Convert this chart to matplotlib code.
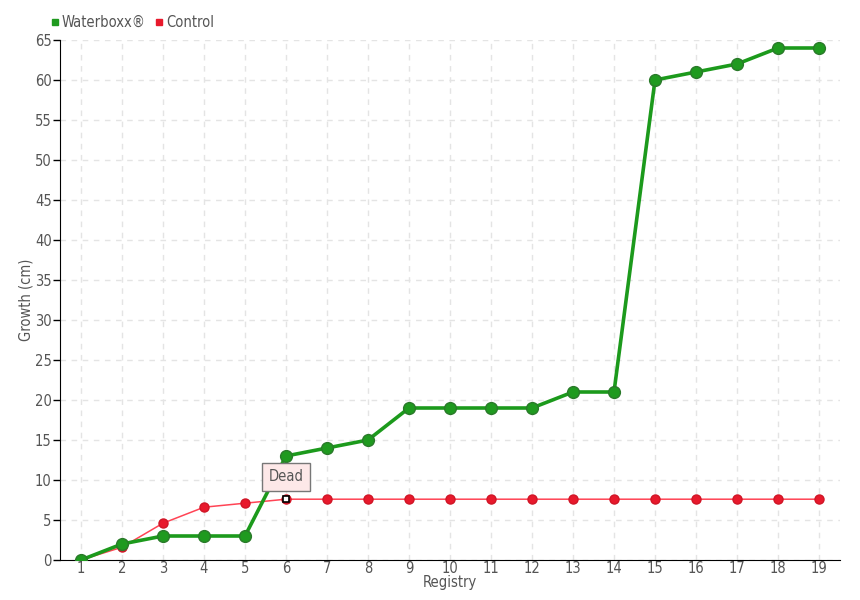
import matplotlib
matplotlib.use("Agg")
import matplotlib.pyplot as plt
from matplotlib.lines import Line2D

registry = list(range(1, 20))
waterboxx = [0, 2, 3, 3, 3, 13, 14, 15, 19, 19, 19, 19, 21, 21, 60, 61, 62, 64, 64]
control = [0, 1.6, 4.6, 6.6, 7.1, 7.6, 7.6, 7.6, 7.6, 7.6, 7.6, 7.6, 7.6, 7.6, 7.6, 7.6, 7.6, 7.6, 7.6]
yticks = list(range(0, 66, 5))

plt.rcParams['font.family'] = ['DejaVu Sans']
plt.rcParams['font.stretch'] = 'condensed'

fig = plt.figure(figsize=(8.6, 6), dpi=100)
ax = fig.add_axes([60/860, 40/600, 780/860, 520/600])

txt = "#555555"
ax.set_xlim(0.488, 19.512)
ax.set_ylim(0, 65)
ax.set_yticks(yticks)
ax.set_xticks(registry)
ax.grid(True, color="#e4e4e4", linestyle=(0, (4, 4)), linewidth=1)
ax.set_axisbelow(True)
for s in ["top", "right"]:
    ax.spines[s].set_visible(False)
ax.spines["left"].set_color("black")
ax.spines["bottom"].set_color("black")
ax.tick_params(axis="y", length=5, width=1, color="black", labelcolor=txt, labelsize=10.5, pad=1)
ax.tick_params(axis="x", length=0, labelcolor=txt, labelsize=10.5, pad=1)

ax.plot(registry, control, color="#ff4455", linewidth=1.1, marker="o", markersize=6.5,
        markerfacecolor="#e8192c", markeredgecolor="#d01526", zorder=3)
ax.plot(registry, waterboxx, color="#1c9a1c", linewidth=2.6, marker="o", markersize=8.5,
        markerfacecolor="#1f9a1f", markeredgecolor="#2a7a2a", markeredgewidth=1, zorder=4)

# Dead marker
ax.plot([registry[5]], [control[5]], marker="s", markersize=5, markerfacecolor="white",
        markeredgecolor="black", markeredgewidth=1.2, zorder=6, linestyle="none")
ax.annotate("Dead", xy=(registry[5], control[5]), xytext=(0, 16), textcoords="offset points",
            ha="center", va="center", fontsize=10.5, color="#555555",
            bbox=dict(boxstyle="square,pad=0.45", fc="#fde8e8", ec="#777777", lw=1),
            zorder=7)

ax.set_xlabel("Registry", color=txt, fontsize=10.5, labelpad=-1)
ax.set_ylabel("Growth (cm)", color=txt, fontsize=10.5, labelpad=1)

handles = [Line2D([], [], marker="s", color="none", markerfacecolor="#1f9a1f", markeredgecolor="#1f9a1f", markersize=5),
           Line2D([], [], marker="s", color="none", markerfacecolor="#e8192c", markeredgecolor="#e8192c", markersize=5)]
fig.legend(handles, ["Waterboxx®", "Control"], loc="upper left", bbox_to_anchor=(43/860, 1 - 8/600),
           ncol=2, frameon=False, fontsize=10.5, handlelength=0.6, handletextpad=0.2,
           columnspacing=0.6, labelcolor=txt, borderpad=0)

fig.savefig("out.png", dpi=100)
